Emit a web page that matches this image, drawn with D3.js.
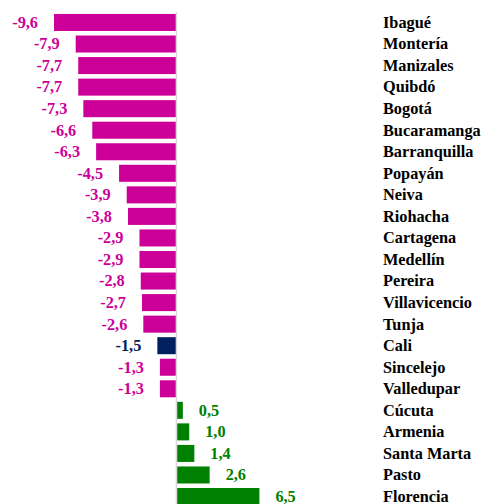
<!DOCTYPE html>
<html>
<head>
<meta charset="utf-8">
<script src="https://cdn.jsdelivr.net/npm/d3@7"></script>
<style>
  body { margin: 0; background: #fff; }
  text { font-family: "Liberation Serif", serif; font-weight: bold; font-size: 16.3px; }
</style>
</head>
<body>
<div id="chart"></div>
<script>
var width = 484, height = 504;

// Data
var cities = ["Ibagué", "Montería", "Manizales", "Quibdó", "Bogotá", "Bucaramanga", "Barranquilla",
  "Popayán", "Neiva", "Riohacha", "Cartagena", "Medellín", "Pereira", "Villavicencio", "Tunja",
  "Cali", "Sincelejo", "Valledupar", "Cúcuta", "Armenia", "Santa Marta", "Pasto", "Florencia"];
var values = [-9.6, -7.9, -7.7, -7.7, -7.3, -6.6, -6.3, -4.5, -3.9, -3.8, -2.9, -2.9, -2.8, -2.7, -2.6,
  -1.5, -1.3, -1.3, 0.5, 1.0, 1.4, 2.6, 6.5];
var highlight = "Cali";

var rows = cities.map((c, i) => ({ city: c, value: values[i] }));

var colorOf = d => d.city === highlight ? "#002060" : (d.value < 0 ? "#cc0099" : "#008000");

var svg = d3.select("#chart")
  .append("svg")
  .attr("width", width)
  .attr("height", height);

// X scale
var xScale = d3.scaleLinear()
  .domain([-9.6, 6.5])
  .range([54, 259.4]);

// Y scale
var yScale = d3.scaleBand()
  .domain(cities)
  .range([11.7, 507.3])
  .paddingInner(0.21)
  .paddingOuter(0.105);

// Zero line
svg.append("line")
  .attr("x1", xScale(0))
  .attr("x2", xScale(0))
  .attr("y1", 12)
  .attr("y2", height)
  .style("stroke", "#d9d9d9")
  .style("stroke-width", 1.5);

// Bars
svg.selectAll(".bar")
  .data(rows)
  .enter()
  .append("rect")
  .attr("class", "bar")
  .attr("x", d => Math.min(xScale(d.value), xScale(0) + 0.75))
  .attr("y", d => yScale(d.city))
  .attr("width", d => Math.abs(xScale(d.value) - xScale(0)) - 0.75)
  .attr("height", yScale.bandwidth())
  .style("fill", colorOf);

// Value labels
svg.selectAll(".val")
  .data(rows)
  .enter()
  .append("text")
  .attr("class", "val")
  .attr("x", d => d.value < 0 ? xScale(d.value) - 16 : xScale(d.value) + 16)
  .attr("y", d => yScale(d.city) + yScale.bandwidth() / 2)
  .attr("dy", "0.33em")
  .attr("text-anchor", d => d.value < 0 ? "end" : "start")
  .style("fill", colorOf)
  .text(d => d3.format(".1f")(d.value).replace(".", ",").replace("−", "-"));

// City labels
svg.selectAll(".city")
  .data(rows)
  .enter()
  .append("text")
  .attr("class", "city")
  .attr("x", 383)
  .attr("y", d => yScale(d.city) + yScale.bandwidth() / 2)
  .attr("dy", "0.33em")
  .style("fill", "#000")
  .text(d => d.city);
</script>
</body>
</html>
